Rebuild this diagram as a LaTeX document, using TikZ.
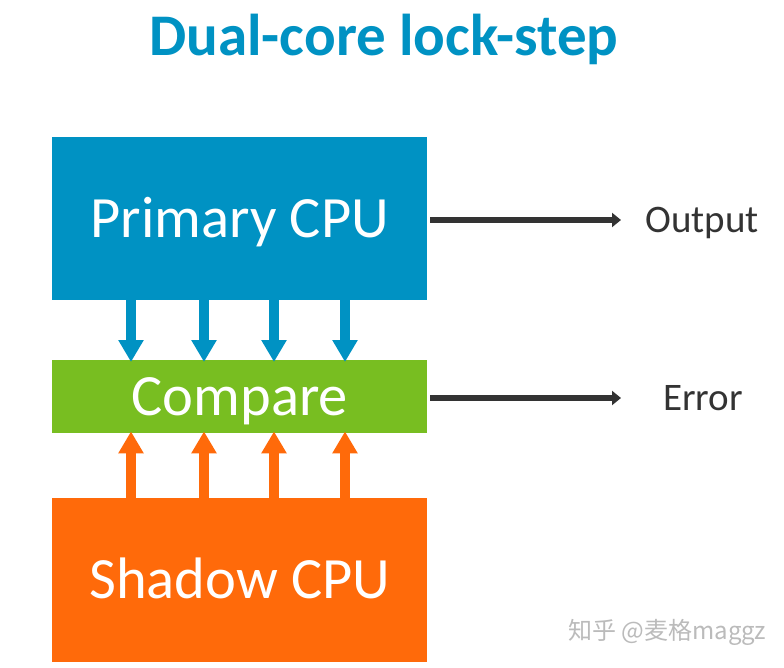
\documentclass[tikz,border=0pt]{standalone}
\usepackage{fontspec}
\setmainfont{Carlito}
\newfontfamily\cjk{Noto Sans CJK SC}
\usetikzlibrary{arrows.meta}
\definecolor{cblue}{HTML}{0092C3}
\definecolor{cgreen}{HTML}{78BE21}
\definecolor{corange}{HTML}{FF6A0A}
\definecolor{cdark}{HTML}{333333}
\definecolor{cwm}{HTML}{BBBBBB}
\tikzset{
  box/.style={anchor=north west, minimum width=375pt, inner sep=0pt, text=white,
    font=\fontsize{58.5}{62}\selectfont, text height=37pt, text depth=0pt},
  barrow/.style={cblue, line width=10pt, -{Triangle[width=24pt,length=22pt]}},
  oarrow/.style={corange, line width=10pt, -{Triangle[width=24pt,length=22pt]}},
  darrow/.style={cdark, line width=6pt, -{Triangle[width=14pt,length=9pt]}},
  lbl/.style={anchor=west, inner sep=0pt, text=cdark, font=\fontsize{39}{41}\selectfont, text height=25pt, text depth=0pt}
}
\begin{document}
\begin{tikzpicture}[x=1pt,y=-1pt]
\useasboundingbox[fill=white] (0,0) rectangle (784,668);
\node[text=cblue, font=\bfseries\fontsize{59}{62}\selectfont, inner sep=0pt, text height=37pt, text depth=0pt] (title) at (384,37) {Dual-core lock-step};
\node[box, fill=cblue, minimum height=163pt] (primary) at (52,137) {Primary CPU};
\node[box, fill=cgreen, minimum height=73pt] (compare) at (52,360) {Compare};
\node[box, fill=corange, minimum height=164pt] (shadow) at (52,498) {Shadow CPU};
\node[lbl] (output) at (645,220) {Output};
\node[lbl] (error) at (663,398) {Error};
\coordinate (c1) at (131,0);
\coordinate (c2) at (204,0);
\coordinate (c3) at (274,0);
\coordinate (c4) at (345,0);
\foreach \c in {c1,c2,c3,c4}{
  \draw[barrow] (primary.south -| \c) -- ([yshift=-2pt]compare.north -| \c);
  \draw[oarrow] (shadow.north -| \c) -- ([yshift=2pt]compare.south -| \c);
}
\coordinate (oend) at (621,220);
\coordinate (eend) at (621,398);
\draw[darrow] ([xshift=3pt]primary.east |- oend) -- (oend);
\draw[darrow] ([xshift=3pt]compare.east |- eend) -- (eend);
\node[text=cwm, font=\cjk\fontsize{24}{26}\selectfont, anchor=west, inner sep=0pt] (wm) at (568,632) {知乎 @麦格maggz};
\end{tikzpicture}
\end{document}
